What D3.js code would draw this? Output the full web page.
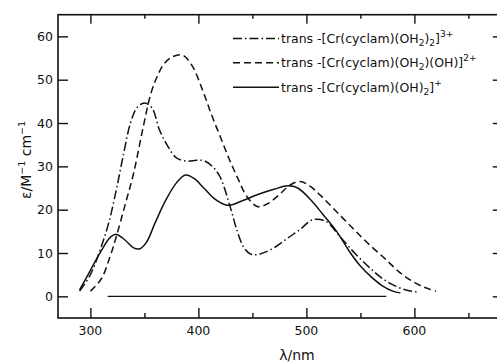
<!DOCTYPE html>
<html>
<head>
<meta charset="utf-8">
<script src="https://cdn.jsdelivr.net/npm/d3@7"></script>
<style>
  body { margin: 0; background: #fff; }
  svg text { font-family: "DejaVu Sans", sans-serif; fill: #111; }
</style>
</head>
<body>
<svg id="chart" width="497" height="362"></svg>
<script>
// wavelength (nm) / epsilon values
const triWave = [290, 300, 309, 317, 324, 330, 337, 343, 350, 357, 364, 372, 380, 390, 398, 405, 412, 420, 429, 436, 442, 448, 454, 462, 472, 483, 494, 506, 518, 531, 545, 559, 571, 583, 593, 602];
const triEps  = [1.2, 5, 10.7, 17, 24.6, 32, 39.9, 43.5, 44.6, 43.5, 38.4, 34.5, 31.9, 31.2, 31.4, 31.3, 30.2, 27.6, 21, 15, 11.3, 9.8, 9.6, 10.2, 11.5, 13.5, 15.4, 17.7, 17.3, 13.8, 9.9, 6.5, 4, 2.3, 1.4, 1.0];

const diWave = [300, 310, 318, 324, 332, 340, 348, 356, 362, 368, 376, 385, 394, 404, 412, 420, 428, 436, 445, 455, 465, 475, 485, 494, 503, 513, 528, 543, 558, 574, 586, 596, 608, 620];
const diEps  = [1.2, 4, 9, 13.8, 21, 28.4, 38, 46.8, 50.8, 53.6, 55.3, 55.7, 53.3, 47.5, 42, 37, 32, 27.5, 23, 20.7, 21.5, 23.5, 25.7, 26.5, 25.5, 23.3, 19.5, 15.7, 12, 8.4, 5.6, 3.8, 2.2, 1.2];

const monoWave = [290, 300, 310, 318, 324, 332, 340, 346, 352, 360, 370, 380, 388, 396, 405, 415, 427, 440, 455, 470, 483, 492, 505, 515, 528, 540, 550, 560, 570, 580, 587];
const monoEps  = [1.5, 6, 10.5, 13.5, 14.3, 13, 11.2, 11, 12.5, 17, 22.3, 26.3, 28, 27.2, 25, 22.5, 21, 22, 23.5, 24.7, 25.5, 25, 22, 19, 15, 10.3, 7, 4.5, 2.5, 1.2, 0.8];

const baseWave = [316, 574];
const baseEps = [0, 0];

const xTicksMajor = [300, 400, 500, 600];
const xTicksMinor = [350, 450, 550, 650];
const yTicks = [0, 10, 20, 30, 40, 50, 60];

const svg = d3.select('#chart');
const plotLeft = 58, plotRight = 500.8, plotTop = 14.7, plotBottom = 318;

const x = d3.scaleLinear().domain([270, 680]).range([plotLeft, plotRight]);
const y = d3.scaleLinear().domain([-5, 65]).range([plotBottom, plotTop]);

const ink = '#111';

// frame
svg.append('rect')
  .attr('x', plotLeft).attr('y', plotTop)
  .attr('width', plotRight - plotLeft).attr('height', plotBottom - plotTop)
  .attr('fill', 'none').attr('stroke', ink).attr('stroke-width', 1.6);

function tickAxis(axis, transform) {
  const g = svg.append('g').attr('transform', transform).call(axis);
  g.select('.domain').remove();
  g.selectAll('line').attr('stroke', ink).attr('stroke-width', 1.4);
  g.selectAll('text').remove();
  return g;
}

// x ticks, pointing inward
tickAxis(d3.axisBottom(x).tickValues(xTicksMajor).tickSize(-10), `translate(0,${plotBottom})`);
tickAxis(d3.axisBottom(x).tickValues(xTicksMinor).tickSize(-5), `translate(0,${plotBottom})`);
tickAxis(d3.axisTop(x).tickValues(xTicksMajor).tickSize(-9), `translate(0,${plotTop})`);
tickAxis(d3.axisTop(x).tickValues(xTicksMinor).tickSize(-4), `translate(0,${plotTop})`);
// y ticks, pointing inward
tickAxis(d3.axisLeft(y).tickValues(yTicks).tickSize(-10), `translate(${plotLeft},0)`);
tickAxis(d3.axisRight(y).tickValues(yTicks).tickSize(-8), `translate(${plotRight},0)`);

// tick labels
svg.append('g').selectAll('text')
  .data(xTicksMajor).join('text')
  .attr('x', d => x(d)).attr('y', 335)
  .attr('text-anchor', 'middle')
  .attr('font-size', 12.5)
  .text(d => d);

svg.append('g').selectAll('text')
  .data(yTicks).join('text')
  .attr('x', 53).attr('y', d => y(d) + 4.6)
  .attr('text-anchor', 'end')
  .attr('font-size', 12.5)
  .text(d => d);

// axis titles
svg.append('text')
  .attr('x', 297).attr('y', 360)
  .attr('text-anchor', 'middle')
  .attr('font-size', 14)
  .text('λ/nm');

const yt = svg.append('text')
  .attr('transform', 'translate(31,160) rotate(-90)')
  .attr('text-anchor', 'middle')
  .attr('font-size', 14);
yt.append('tspan').text('ε/M');
yt.append('tspan').attr('dy', -6).attr('font-size', 9.5).text('−1');
yt.append('tspan').attr('dy', 6).text(' cm');
yt.append('tspan').attr('dy', -6).attr('font-size', 9.5).text('−1');

// curves
const line = d3.line()
  .x(d => x(d[0]))
  .y(d => y(d[1]))
  .curve(d3.curveCatmullRom.alpha(0.5));

const series = [
  { wave: triWave, eps: triEps, dash: '9,3,1.5,3' },
  { wave: diWave, eps: diEps, dash: '7,4' },
  { wave: monoWave, eps: monoEps, dash: null }
];

series.forEach(s => {
  svg.append('path')
    .datum(d3.zip(s.wave, s.eps))
    .attr('d', line)
    .attr('fill', 'none')
    .attr('stroke', ink)
    .attr('stroke-width', 1.5)
    .attr('stroke-dasharray', s.dash);
});

svg.append('path')
  .datum(d3.zip(baseWave, baseEps))
  .attr('d', d3.line().x(d => x(d[0])).y(d => y(d[1])))
  .attr('stroke', ink)
  .attr('stroke-width', 1.1);

// legend
const legendRows = [
  { parts: [['trans -[Cr(cyclam)(OH', 0], ['2', 1], [')', 0], ['2', 1], [']', 0], ['3+', 2]], dash: '9,3,1.5,3' },
  { parts: [['trans -[Cr(cyclam)(OH', 0], ['2', 1], [')(OH)]', 0], ['2+', 2]], dash: '7,4' },
  { parts: [['trans -[Cr(cyclam)(OH)', 0], ['2', 1], [']', 0], ['+', 2]], dash: null }
];
const legendY = [38.5, 62.7, 87.3];

legendRows.forEach((row, i) => {
  const ly = legendY[i];
  svg.append('line')
    .attr('x1', 233).attr('x2', 279)
    .attr('y1', ly).attr('y2', ly)
    .attr('stroke', ink).attr('stroke-width', 1.5)
    .attr('stroke-dasharray', row.dash);
  const t = svg.append('text')
    .attr('x', 281).attr('y', ly + 4.6)
    .attr('font-size', 12.5);
  let shift = 0;
  row.parts.forEach(([str, kind]) => {
    const target = kind === 1 ? 3 : kind === 2 ? -6 : 0;
    t.append('tspan')
      .attr('dy', target - shift)
      .attr('font-size', kind ? 9 : 12.5)
      .text(str);
    shift = target;
  });
});
</script>
</body>
</html>
